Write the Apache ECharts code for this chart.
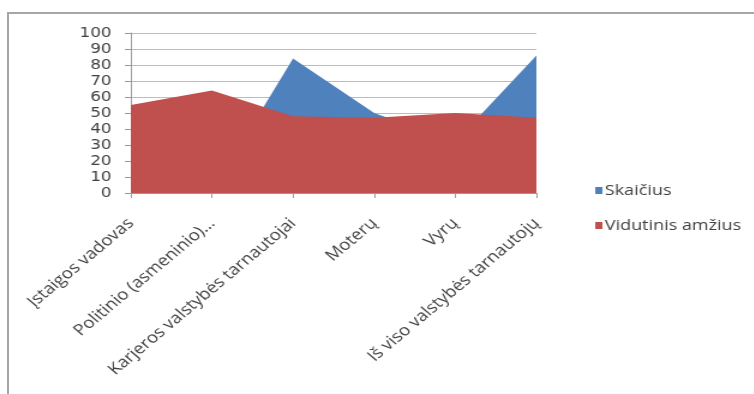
<!DOCTYPE html>
<html>
<head>
<meta charset="utf-8">
<script src="https://cdn.jsdelivr.net/npm/echarts@6/dist/echarts.min.js"></script>
<style>
  html, body { margin: 0; padding: 0; background: #fff; overflow: hidden; }
  #frame { position: absolute; left: 7px; top: 12px; width: 760px; height: 400px;
           border: 2px solid #a6a6a6; border-right: none; border-bottom: none; box-sizing: border-box; }
  /* the chart is laid out 628px wide and widened to 754px */
  #chart { position: absolute; left: 0; top: 0; width: 628px; height: 394px;
           transform: scaleX(1.2); transform-origin: 0 0; }
</style>
</head>
<body>
<div id="frame"></div>
<div id="chart"></div>
<script>
// Valstybės tarnautojai: skaičius ir vidutinis amžius
const categories = [
  'Įstaigos vadovas',
  'Politinio (asmeninio)…',
  'Karjeros valstybės tarnautojai',
  'Moterų',
  'Vyrų',
  'Iš viso valstybės tarnautojų'
];
const skaicius = [1, 1, 84, 50, 32, 86];
const amzius = [55, 64, 48, 47, 50, 47];
const yTicks = { min: 0, max: 100, interval: 10 };

const chart = echarts.init(document.getElementById('chart'), null, { renderer: 'canvas' });
chart.setOption({
  animation: false,
  backgroundColor: 'transparent',
  grid: { left: 109, right: 181, top: 33, bottom: 201, containLabel: false },
  legend: {
    orient: 'vertical',
    left: 491,
    top: 178,
    itemWidth: 6,
    itemHeight: 7,
    itemGap: 20,
    icon: 'rect',
    textStyle: { fontFamily: 'Open Sans', fontSize: 15, color: '#404040', padding: [0, 0, 0, -3] },
    data: ['Skaičius', 'Vidutinis amžius']
  },
  xAxis: {
    type: 'category',
    data: categories,
    boundaryGap: false,
    axisLine: { show: true, lineStyle: { color: '#9a9a9a' } },
    axisTick: { show: true, length: 5, alignWithLabel: true, interval: 0, lineStyle: { color: '#9a9a9a' } },
    axisLabel: { interval: 0, rotate: 45, margin: 28, fontFamily: 'Open Sans', fontSize: 15.5, color: '#404040' },
    splitLine: { show: false }
  },
  yAxis: {
    type: 'value',
    min: yTicks.min,
    max: yTicks.max,
    interval: yTicks.interval,
    axisLine: { show: true, lineStyle: { color: '#9a9a9a' } },
    axisTick: { show: true, length: 5, lineStyle: { color: '#9a9a9a' } },
    axisLabel: { margin: 16, fontFamily: 'DejaVu Sans', fontSize: 14, color: '#404040' },
    splitLine: { show: true, lineStyle: { color: '#bcbcbc', width: 1 } }
  },
  series: [
    {
      name: 'Skaičius',
      type: 'line',
      data: skaicius,
      symbol: 'none',
      lineStyle: { width: 0 },
      itemStyle: { color: '#4f81bd' },
      areaStyle: { color: '#4f81bd', opacity: 1 },
      z: 2
    },
    {
      name: 'Vidutinis amžius',
      type: 'line',
      data: amzius,
      symbol: 'none',
      lineStyle: { width: 0 },
      itemStyle: { color: '#c0504d' },
      areaStyle: { color: '#c0504d', opacity: 1 },
      z: 3
    }
  ]
});
</script>
</body>
</html>
